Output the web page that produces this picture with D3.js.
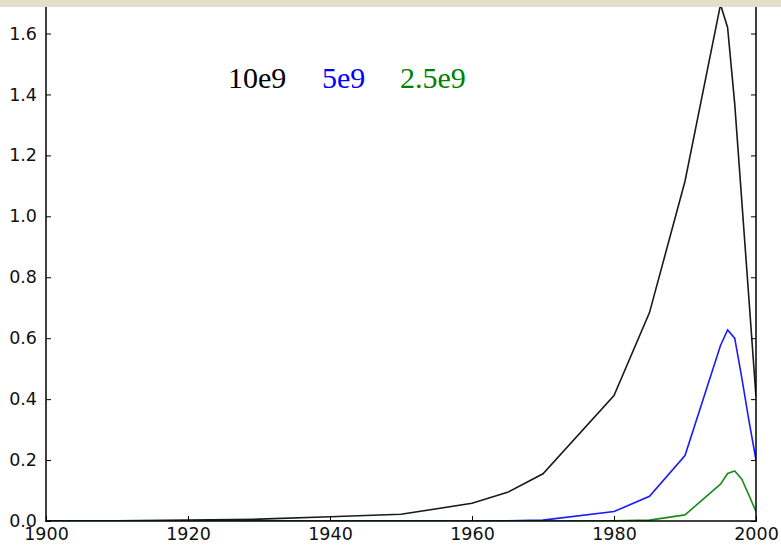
<!DOCTYPE html>
<html>
<head>
<meta charset="utf-8">
<script src="https://cdn.jsdelivr.net/npm/d3@7"></script>
<style>
  html, body { margin: 0; padding: 0; background: #ffffff; }
  svg { display: block; }
</style>
</head>
<body>
<svg id="chart" width="781" height="546"></svg>
<script>
const years = [1900, 1910, 1920, 1930, 1940, 1950, 1960, 1965, 1970, 1980, 1985, 1990, 1995, 1996, 1997, 1998, 1999, 2000];
const series10e9 = [0, 0.001, 0.003, 0.006, 0.014, 0.022, 0.058, 0.094, 0.155, 0.412, 0.684, 1.115, 1.695, 1.620, 1.370, 1.050, 0.730, 0.408];
const series5e9  = [0, 0, 0, 0, 0, 0, 0, 0.001, 0.003, 0.031, 0.081, 0.215, 0.576, 0.627, 0.600, 0.470, 0.330, 0.200];
const series25e9 = [0, 0, 0, 0, 0, 0, 0, 0, 0, 0.001, 0.003, 0.020, 0.121, 0.156, 0.164, 0.137, 0.085, 0.031];
const seriesNames = ["10e9", "5e9", "2.5e9"];
const seriesColors = ["#000000", "#0000ff", "#008000"];
const xTicks = [1900, 1920, 1940, 1960, 1980, 2000];
const yTicks = [0.0, 0.2, 0.4, 0.6, 0.8, 1.0, 1.2, 1.4, 1.6];

(function () {
const svg = d3.select("#chart");
const left = 46, right = 756, bottom = 521;
const x = d3.scaleLinear().domain([1900, 2000]).range([left, right]);
const y = d3.scaleLinear().domain([0, 1.6]).range([bottom, 33.5]);
const plotTop = y(1.72);

svg.append("rect").attr("x", 0).attr("y", 0).attr("width", 781).attr("height", 546).attr("fill", "#ffffff");

svg.append("defs").append("clipPath").attr("id", "clip")
  .append("rect").attr("x", left).attr("y", plotTop).attr("width", right - left).attr("height", bottom - plotTop);

const allSeries = [series10e9, series5e9, series25e9];
const line = d3.line().x((d, i) => x(years[i])).y(d => y(d));
const g = svg.append("g").attr("clip-path", "url(#clip)");
allSeries.forEach((s, k) => {
  g.append("path").datum(s).attr("d", line)
    .attr("fill", "none").attr("stroke", seriesColors[k]).attr("stroke-width", 1.6)
    .attr("stroke-opacity", 0.9)
    .attr("stroke-linejoin", "miter");
});

const fontTicks = "'DejaVu Sans', sans-serif";
const xAxis = d3.axisBottom(x).tickValues(xTicks).tickFormat(d3.format("d")).tickSize(-5).tickPadding(7);
const gx = svg.append("g").attr("transform", `translate(0,${bottom})`).call(xAxis);
gx.select(".domain").remove();
gx.selectAll("line").attr("stroke", "#000").attr("stroke-width", 1);
gx.selectAll("text").attr("font-family", fontTicks).attr("font-size", 17.5).attr("fill", "#111");

const yAxis = d3.axisLeft(y).tickValues(yTicks).tickFormat(d3.format(".1f")).tickSize(-5).tickPadding(9);
const gy = svg.append("g").attr("transform", `translate(${left},0)`).call(yAxis);
gy.select(".domain").remove();
gy.selectAll("line").attr("stroke", "#000").attr("stroke-width", 1);
gy.selectAll("text").attr("font-family", fontTicks).attr("font-size", 17.5).attr("fill", "#111");

const yAxisR = d3.axisRight(y).tickValues(yTicks).tickFormat("").tickSize(-5);
const gyr = svg.append("g").attr("transform", `translate(${right},0)`).call(yAxisR);
gyr.select(".domain").remove();
gyr.selectAll("line").attr("stroke", "#000").attr("stroke-width", 1);

svg.append("line").attr("x1", left).attr("x2", left).attr("y1", plotTop).attr("y2", bottom + 0.75).attr("stroke", "#000").attr("stroke-width", 1.5);
svg.append("line").attr("x1", right).attr("x2", right).attr("y1", plotTop).attr("y2", bottom + 0.75).attr("stroke", "#000").attr("stroke-width", 1.5);
svg.append("line").attr("x1", left - 0.75).attr("x2", right + 0.75).attr("y1", bottom).attr("y2", bottom).attr("stroke", "#000").attr("stroke-width", 1.5);

const labelX = [228, 322, 400];
seriesNames.forEach((n, k) => {
  svg.append("text").attr("x", labelX[k]).attr("y", 88)
    .attr("font-family", "'Liberation Serif', 'DejaVu Serif', serif").attr("font-size", 30)
    .attr("fill", seriesColors[k]).text(n);
});

svg.append("rect").attr("x", 0).attr("y", 0).attr("width", 781).attr("height", 7).attr("fill", "#e3dfcb");
})();
</script>
</body>
</html>
